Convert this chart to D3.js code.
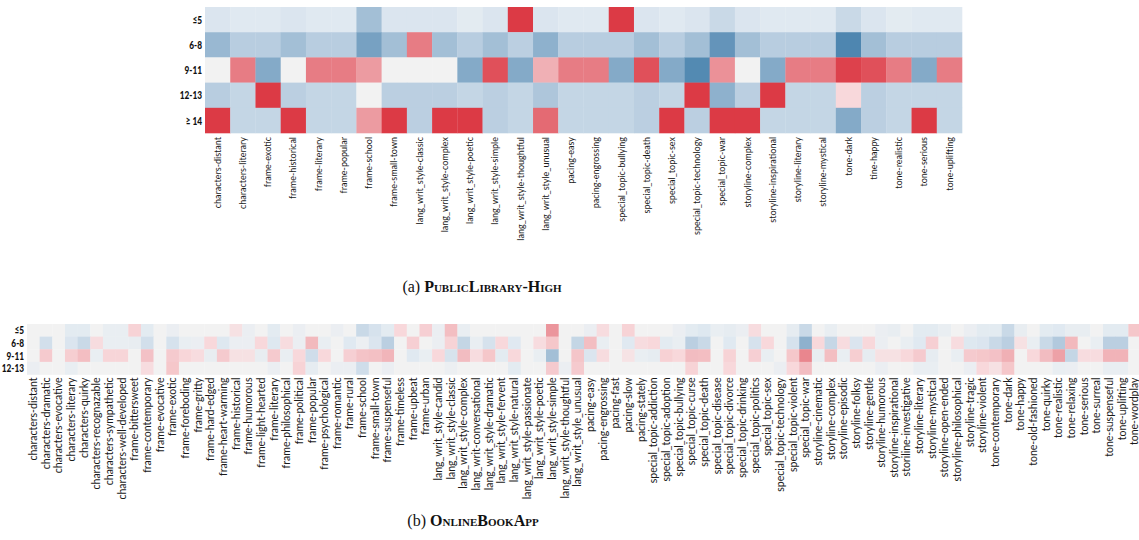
<!DOCTYPE html>
<html>
<head>
<meta charset="utf-8">
<script src="https://cdn.jsdelivr.net/npm/d3@7"></script>
<style>
  html, body { margin: 0; padding: 0; background: #fff; }
  svg { display: block; }
  .col-label { font-family: Lato, "Open Sans", sans-serif; fill: #1a1a1a; }
  .row-label { font-family: Lato, "Open Sans", sans-serif; font-weight: 900; fill: #111; }
  .caption { font-family: "Liberation Serif", "DejaVu Serif", serif; font-size: 16px; fill: #111; }
</style>
</head>
<body>
<div id="chart"></div>
<script>
// --- data: top heatmap (PublicLibrary-High) ---
const topRows = ["≤5", "6-8", "9-11", "12-13", "≥ 14"];
const topCols = [
  "characters-distant", "characters-literary", "frame-exotic", "frame-historical",
  "frame-literary", "frame-popular", "frame-school", "frame-small-town",
  "lang_writ_style-classic", "lang_writ_style-complex", "lang_writ_style-poetic",
  "lang_writ_style-simple", "lang_writ_style-thoughtful", "lang_writ_style_unusual",
  "pacing-easy", "pacing-engrossing", "special_topic-bullying", "special_topic-death",
  "special_topic-sex", "special_topic-technology", "special_topic-war",
  "storyline-complex", "storyline-inspirational", "storyline-literary",
  "storyline-mystical", "tone-dark", "tine-happy", "tone-realistic", "tone-serious",
  "tone-uplifting"
];
const topLe5   = [-0.15,-0.12,-0.12,-0.15,-0.12,-0.12,-0.45,-0.15,-0.15,-0.15,-0.1,-0.15,1,-0.15,-0.12,
                  -0.12,1,-0.15,-0.12,-0.15,-0.25,-0.15,-0.12,-0.12,-0.12,-0.25,-0.15,-0.1,-0.12,-0.12];
const top6to8  = [-0.5,-0.35,-0.35,-0.45,-0.35,-0.35,-0.65,-0.45,0.6,-0.45,-0.35,-0.45,-0.33,-0.55,-0.35,
                  -0.35,-0.35,-0.45,-0.35,-0.45,-0.72,-0.45,-0.35,-0.35,-0.35,-0.8,-0.45,-0.35,-0.35,-0.35];
const top9to11 = [0,0.6,-0.6,0,0.6,0.6,0.45,0,0,0,-0.6,0.85,-0.6,0.35,0.6,
                  0.6,-0.6,0.85,-0.6,-0.78,0.5,0,-0.6,0.6,0.6,0.95,0.85,0.6,-0.6,0.6];
const top12to13 = [-0.35,-0.28,1,-0.33,-0.28,-0.28,0,-0.33,-0.33,-0.33,-0.28,-0.33,-0.28,-0.4,-0.28,
                   -0.28,-0.28,-0.33,-0.28,1,-0.55,-0.33,1,-0.28,-0.28,0.12,-0.33,-0.28,-0.28,-0.28];
const topGe14  = [1,-0.28,-0.28,1,-0.28,-0.28,0.45,1,-0.33,1,1,-0.33,-0.28,0.7,-0.28,
                  -0.28,-0.28,-0.33,1,-0.33,1,1,-0.28,-0.28,-0.28,-0.6,-0.33,-0.28,1,-0.28];
const topValues = [topLe5, top6to8, top9to11, top12to13, topGe14];

// --- data: bottom heatmap (OnlineBookApp) ---
const botRows = ["≤5", "6-8", "9-11", "12-13"];
const botCols = [
  "characters-distant", "characters-dramatic", "characters-evocative", "characters-literary",
  "characters-quirky", "characters-recognazable", "characters-sympathetic",
  "characters-well-developed", "frame-bittersweet", "frame-contemporary", "frame-evocative",
  "frame-exotic", "frame-foreboding", "frame-gritty", "frame-hard-edged", "frame-heart-warming",
  "frame-historical", "frame-humorous", "frame-light-hearted", "frame-literary",
  "frame-philosophical", "frame-political", "frame-popular", "frame-psychological",
  "frame-romantic", "frame-rural", "frame-school", "frame-small-town", "frame-suspenseful",
  "frame-timeless", "frame-upbeat", "frame-urban", "lang_writ_style-candid",
  "lang_writ_style-classic", "lang_writ_style-complex", "lang_writ-conversational",
  "lang_writ_style-dramatic", "lang_writ_style-fervent", "lang_writ_style-natural",
  "lang_writ_style-passionate", "lang_writ_style-poetic", "lang_writ_style-simple",
  "lang_writ_style-thoughtful", "lang_writ_style_unusual", "pacing-easy", "pacing-engrossing",
  "pacing-fast", "pacing-slow", "pacing-stately", "special_topic-addiction",
  "special_topic-adoption", "special_topic-bullying", "special_topic-curse",
  "special_topic-death", "special_topic-disease", "special_topic-divorce",
  "special_topic-drinking", "special_topic-politics", "special_topic-sex",
  "special_topic-technology", "special_topic-violent", "special_topic-war",
  "storyline-cinematic", "storyline-complex", "storyline-episodic", "storyline-folksy",
  "storyline-gentle", "storyline-humorous", "storyline-inspirational",
  "storiline-investigative", "storyline-literary", "storyline-mystical",
  "storyline-open-ended", "storyline-philosophical", "storyline-tragic", "storyline-violent",
  "tone-contemporary", "tone-dark", "tone-happy", "tone-old-fashioned", "tone-quirky",
  "tone-realistic", "tone-relaxing", "tone-serious", "tone-surreal", "tone-suspenseful",
  "tone-uplifting", "tone-wordplay"
];
const botLe5 = [0,0,0,-0.1,-0.1,0,-0.06,-0.06,0.15,-0.1,0,-0.05,0,0,0,0,0.08,-0.05,0,-0.1,0,-0.05,0,0,-0.05,0,-0.25,-0.18,-0.1,0.12,
  0,0.17,-0.05,0.27,-0.06,0,0,0,0,0,0,0.48,0,0,-0.05,0.1,0,0.15,0,0,0,-0.05,-0.1,-0.13,-0.06,-0.08,-0.05,0.1,0,
  0,-0.08,-0.25,0,-0.06,0,0,0,-0.05,-0.07,0,-0.1,-0.1,-0.06,0,-0.05,-0.1,-0.1,-0.25,-0.07,0,-0.1,-0.12,-0.07,-0.07,0,-0.1,-0.1,0.22];
const bot6to8 = [0,-0.2,0,-0.15,-0.25,0.1,-0.06,-0.06,-0.07,-0.2,0,-0.18,-0.06,-0.05,0.12,-0.13,-0.05,-0.05,0.12,-0.13,0.1,-0.05,0.3,-0.06,0,-0.12,-0.04,-0.15,-0.33,0,
  0.17,0,-0.05,0.15,-0.28,-0.06,-0.18,0.12,-0.12,0,0.1,0.22,0,-0.28,0.27,-0.06,0,-0.12,0.1,0.12,-0.1,-0.06,-0.33,-0.25,0,-0.12,0,-0.18,0.12,
  0,-0.18,-0.55,0.12,-0.27,0.1,-0.15,0.12,-0.05,0,-0.06,-0.12,0.17,0,0.1,-0.13,-0.15,-0.25,-0.33,0.08,-0.06,-0.25,-0.38,0.3,0,-0.06,-0.33,-0.33,0];
const bot9to11 = [0,0.2,0,0.18,0.27,-0.06,0.14,0.14,0,0.25,0,0.2,0.13,0.1,-0.07,0.2,0.08,0.08,-0.07,0.2,-0.06,0.12,-0.22,0.12,0,0.17,0.24,0.26,0.32,0,
  -0.12,-0.06,0.12,-0.17,0.28,0.1,0.22,-0.1,0.12,0,-0.06,-0.45,0,0.23,-0.15,0.1,0,0.07,-0.06,-0.08,0.16,0.12,0.28,0.27,0,0.15,0,0.17,-0.06,
  0,0.22,0.55,-0.07,0.27,-0.06,0.18,-0.08,0.08,0.08,0.12,0.2,-0.08,0,-0.06,0.2,0.22,0.25,0.35,0,0.12,0.28,0.42,-0.28,0.1,0.1,0.33,0.33,0];
const bot12to13 = [-0.05,0,0,-0.06,0,0,0,0,0,0.1,0,0.22,0,0,0,0,0,0,0,-0.05,0,0.15,-0.08,0,-0.05,-0.05,-0.22,0,-0.05,0,
  0,0,0,-0.04,0,0,0,0,-0.1,0,0,0.2,-0.05,0.2,0,0,0,0,0,0,0,0,0.15,0,0,0.12,0,0,0,
  -0.05,0.12,0.28,0,0,0,0,0,-0.05,0,0,-0.06,-0.06,0,0,-0.05,0.12,0.08,0.22,0,0,0,-0.06,-0.05,0,0,-0.06,-0.06,0];
const botValues = [botLe5, bot6to8, bot9to11, bot12to13];

const width = 1139, height = 540;

// diverging blue - grey - red palette
const color = d3.scaleLinear()
  .domain([-1, -0.8, -0.6, -0.35, -0.12, 0, 0.12, 0.35, 0.6, 0.85, 1])
  .range(["#3d76a6", "#4e86b0", "#84aac8", "#b8cde0", "#e0e9f1", "#f2f2f2",
          "#f8d8db", "#f0b0b5", "#e77c84", "#e0505a", "#dc3a45"])
  .clamp(true);

const svg = d3.select("#chart").append("svg")
  .attr("width", width)
  .attr("height", height);

function drawHeatmap(opts) {
  const x = d3.scaleBand().domain(opts.cols).range(opts.xRange);
  const y = d3.scaleBand().domain(opts.rows).range(opts.yRange);

  const cells = [];
  opts.rows.forEach((r, i) => {
    opts.cols.forEach((c, j) => cells.push({ row: r, col: c, value: opts.values[i][j] }));
  });

  const g = svg.append("g");

  g.selectAll("rect")
    .data(cells)
    .join("rect")
    .attr("x", d => x(d.col))
    .attr("y", d => y(d.row))
    .attr("width", x.bandwidth() + 0.3)
    .attr("height", y.bandwidth() + 0.3)
    .attr("fill", d => color(d.value));

  // column labels, rotated
  g.selectAll(".col-label")
    .data(opts.cols)
    .join("text")
    .attr("class", "col-label")
    .attr("transform", d => `translate(${x(d) + x.bandwidth() / 2},${opts.yRange[1] + opts.labelGap}) rotate(-90)`)
    .attr("dy", "0.35em")
    .attr("text-anchor", "end")
    .style("font-size", opts.colFont + "px")
    .text(d => d);

  // row labels, condensed bold
  g.selectAll(".row-label")
    .data(opts.rows)
    .join("text")
    .attr("class", "row-label")
    .attr("transform", d => `translate(${opts.xRange[0] - 3},${y(d) + y.bandwidth() / 2}) scale(${opts.rowSqueeze},1)`)
    .attr("dy", "0.36em")
    .attr("text-anchor", "end")
    .style("font-size", opts.rowFont + "px")
    .text(d => d);
}

drawHeatmap({
  rows: topRows, cols: topCols, values: topValues,
  xRange: [205, 962], yRange: [7, 133],
  labelGap: 4, colFont: 9, rowFont: 11.5, rowSqueeze: 0.72
});

drawHeatmap({
  rows: botRows, cols: botCols, values: botValues,
  xRange: [27, 1141], yRange: [324, 374.5],
  labelGap: 3, colFont: 10.5, rowFont: 11, rowSqueeze: 0.75
});

// captions
function caption(tag, name, cx, cy) {
  const t = svg.append("text")
    .attr("class", "caption")
    .attr("x", cx)
    .attr("y", cy)
    .attr("text-anchor", "middle");
  t.append("tspan").text(tag + " ");
  t.append("tspan")
    .style("font-weight", "bold")
    .style("font-variant", "small-caps")
    .text(name);
}

caption("(a)", "PublicLibrary-High", 482, 292);
caption("(b)", "OnlineBookApp", 473, 526);
</script>
</body>
</html>
